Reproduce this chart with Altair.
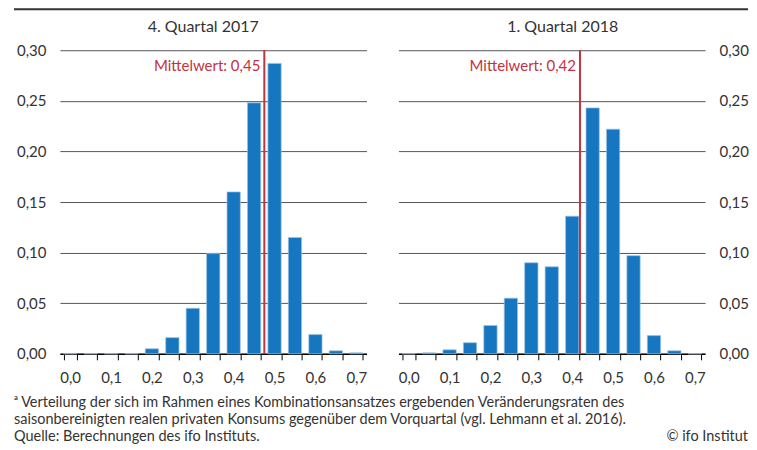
import altair as alt
import pandas as pd

# ---- data ----
bins = [0.0, 0.05, 0.1, 0.15, 0.2, 0.25, 0.3, 0.35, 0.4, 0.45, 0.5, 0.55, 0.6, 0.65, 0.7]
q4_2017 = [0, 0, 0, 0, 0.005, 0.016, 0.045, 0.099, 0.160, 0.248, 0.287, 0.115, 0.019, 0.003, 0.001]
q1_2018 = [0, 0.001, 0.004, 0.011, 0.028, 0.055, 0.090, 0.086, 0.136, 0.243, 0.222, 0.097, 0.018, 0.003, 0]
titles = ["4. Quartal 2017", "1. Quartal 2018"]
mean_labels = ["Mittelwert: 0,45", "Mittelwert: 0,42"]
# where the mean line sits on the bin axis
mean_line_pos = [0.475, 0.419]
y_ticks = [0, 0.05, 0.1, 0.15, 0.2, 0.25, 0.3]
footnote = [
    "ᵃ Verteilung der sich im Rahmen eines Kombinationsansatzes ergebenden Veränderungsraten des",
    "saisonbereinigten realen privaten Konsums gegenüber dem Vorquartal (vgl. Lehmann et al. 2016).",
    "Quelle: Berechnungen des ifo Instituts.",
]
credit = "© ifo Institut"

FONT = "Lato"
BLUE = "#1676bf"
RED = "#c4323b"
TXT = "#333333"
W, H = 307, 304
LEFT_EXT = 46      # width of the left y axis (labels + padding)
RIGHT_END = 689    # right edge of the whole chart, measured from the left plot origin


def panel(values, title, mean_label, pos, side, title_dx):
    df = pd.DataFrame({"bin": bins, "share": values})
    bars = alt.Chart(df).mark_bar(color=BLUE, stroke="#9cc3e6", strokeWidth=0.7).encode(
        x=alt.X(
            "bin:O",
            scale=alt.Scale(paddingInner=0.35, paddingOuter=0.175),
            axis=alt.Axis(
                title=None,
                labelAngle=0,
                labelExpr="round(datum.value*100) % 10 == 0 ? replace(format(datum.value, '.1f'), '.', ',') : ''",
                tickBand="extent",
                domainColor="#000000",
                domainWidth=1.5,
                tickColor="#000000",
                tickSize=6,
                labelPadding=11,
                labelFontSize=15,
                labelFont=FONT,
                labelColor=TXT,
                grid=False,
            ),
        ),
        y=alt.Y(
            "share:Q",
            scale=alt.Scale(domain=[0, 0.3], nice=False),
            axis=alt.Axis(
                title=None,
                orient=side,
                values=y_ticks,
                labelExpr="replace(format(datum.value, '.2f'), '.', ',')",
                domain=False,
                ticks=False,
                labelPadding=14,
                labelFontSize=15,
                labelFont=FONT,
                labelColor=TXT,
                grid=True,
                gridColor="#555555",
                gridWidth=1,
            ),
        ),
    )
    mdf = pd.DataFrame({"pos": [pos], "label": [mean_label]})
    rx = alt.X("pos:Q", scale=alt.Scale(domain=[-0.025, 0.725], nice=False, zero=False), axis=None)
    rule = alt.Chart(mdf).mark_rule(color=RED, strokeWidth=2).encode(
        x=rx, y=alt.value(0), y2=alt.value(H)
    )
    label = alt.Chart(mdf).mark_text(
        color=RED, align="right", baseline="middle", dx=-4, fontSize=15, font=FONT
    ).encode(x=rx, y=alt.value(16), text="label:N")
    return alt.layer(bars, rule, label).resolve_scale(x="independent").properties(
        width=W,
        height=H,
        title=alt.TitleParams(
            title, fontSize=16, fontWeight="normal", font=FONT, color=TXT,
            anchor="middle", frame="group", dx=title_dx, offset=8,
        ),
    )


left = panel(q4_2017, titles[0], mean_labels[0], mean_line_pos[0], "left", -10)
right = panel(q1_2018, titles[1], mean_labels[1], mean_line_pos[1], "right", 11)
panels = alt.hconcat(left, right, spacing=30)

topline = alt.Chart(pd.DataFrame({"k": [0]})).mark_rule(color="#333333", strokeWidth=2).encode(
    x=alt.value(-LEFT_EXT), x2=alt.value(RIGHT_END), y=alt.value(1)
).properties(width=W, height=11)

fdf = pd.DataFrame({"text": ["\n".join(footnote)]})
foot_text = alt.Chart(fdf).mark_text(
    align="left", baseline="top", lineBreak="\n", lineHeight=17, fontSize=14.5, font=FONT, color=TXT
).encode(x=alt.value(-LEFT_EXT), y=alt.value(10), text="text:N")
cdf = pd.DataFrame({"text": [credit]})
credit_text = alt.Chart(cdf).mark_text(
    align="right", baseline="top", fontSize=14.5, font=FONT, color=TXT
).encode(x=alt.value(RIGHT_END), y=alt.value(44), text="text:N")
footer = alt.layer(foot_text, credit_text).properties(width=W, height=40)

chart = alt.vconcat(topline, panels, footer, spacing=0).properties(
    padding={"left": 5, "top": 0, "right": 0, "bottom": 0}
).configure(font=FONT).configure_view(stroke=None)

chart.save("out.html", embed_options={"renderer": "svg", "actions": False})
